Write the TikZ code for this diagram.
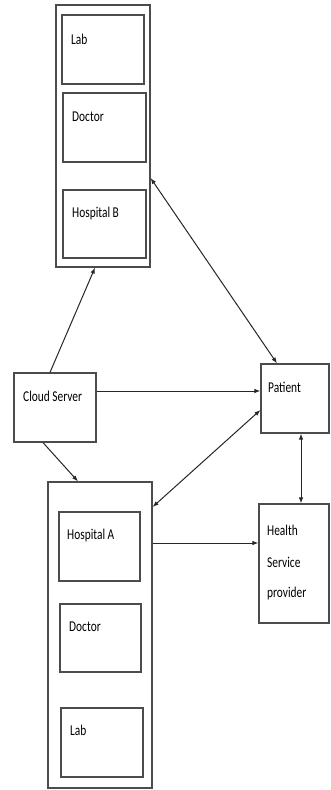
\documentclass[tikz,border=0pt]{standalone}
\usepackage{fontspec}
\setmainfont{Carlito}[FakeStretch=0.76]
\usetikzlibrary{arrows.meta}
\begin{document}
\begin{tikzpicture}[x=1pt,y=-1pt,
  box/.style={draw=black!70,line width=1.2pt,rectangle,inner sep=0pt},
  lbl/.style={anchor=west,inner sep=0pt,font=\fontsize{15}{17}\selectfont,text=black},
  conn/.style={draw=black!85,line width=1pt,-{Latex[length=6pt,width=4.5pt]}},
  dconn/.style={draw=black!85,line width=1pt,{Latex[length=6pt,width=4.5pt]}-{Latex[length=6pt,width=4.5pt]}}]
\useasboundingbox (0,0) rectangle (330,790);
% Hospital B group
\node[box,minimum width=94pt,minimum height=262pt] (hbo) at (103,136) {};
\node[box,minimum width=82pt,minimum height=69pt] (hblab) at (103,49.5) {};
\node[box,minimum width=83pt,minimum height=69pt] (hbdoc) at (104.5,127.5) {};
\node[box,minimum width=83pt,minimum height=68pt] (hbhos) at (104.5,224) {};
\node[lbl] (thblab) at (71,39) {Lab};
\node[lbl] (thbdoc) at (72,117) {Doctor};
\node[lbl] (thbhos) at (72,213) {Hospital B};
% Cloud server
\node[box,minimum width=82pt,minimum height=69pt] (cloud) at (55,407.5) {};
\node[lbl] (tcloud) at (23,396) {Cloud Server};
% Patient
\node[box,minimum width=68pt,minimum height=69pt] (patient) at (295,398.5) {};
\node[lbl] (tpatient) at (268,387) {Patient};
% Health service provider
\node[box,minimum width=70pt,minimum height=119pt] (health) at (294,563.5) {};
\node[lbl] (th1) at (267,530) {Health};
\node[lbl] (th2) at (267,562) {Service};
\node[lbl] (th3) at (267,593) {provider};
% Hospital A group
\node[box,minimum width=104pt,minimum height=306pt] (hao) at (100,635) {};
\node[box,minimum width=81pt,minimum height=69pt] (hahos) at (99.5,546.5) {};
\node[box,minimum width=81pt,minimum height=68pt] (hadoc) at (100.5,638) {};
\node[box,minimum width=82pt,minimum height=69pt] (halab) at (102,742.5) {};
\node[lbl] (thahos) at (67,535) {Hospital A};
\node[lbl] (thadoc) at (69,627) {Doctor};
\node[lbl] (thalab) at (70,730) {Lab};
% connectors
\draw[conn] ([xshift=-5pt]cloud.north) -- ([xshift=-8pt]hbo.south);
\draw[dconn] ([xshift=-18pt]patient.north) -- ([yshift=-42pt]hbo.east);
\draw[conn] ([yshift=16.5pt]cloud.east) coordinate (c3) -- (c3 -| patient.west);
\draw[conn] ([xshift=-12pt]cloud.south) -- ([xshift=-22pt]hao.north);
\draw[dconn] ([yshift=-11.5pt]patient.west) -- ([yshift=128pt]hao.east);
\draw[dconn] ([xshift=6pt]patient.south) coordinate (p6) -- (p6 |- health.north);
\draw[conn] ([yshift=92pt]hao.east) coordinate (h7) -- (h7 -| health.west);
\end{tikzpicture}
\end{document}
